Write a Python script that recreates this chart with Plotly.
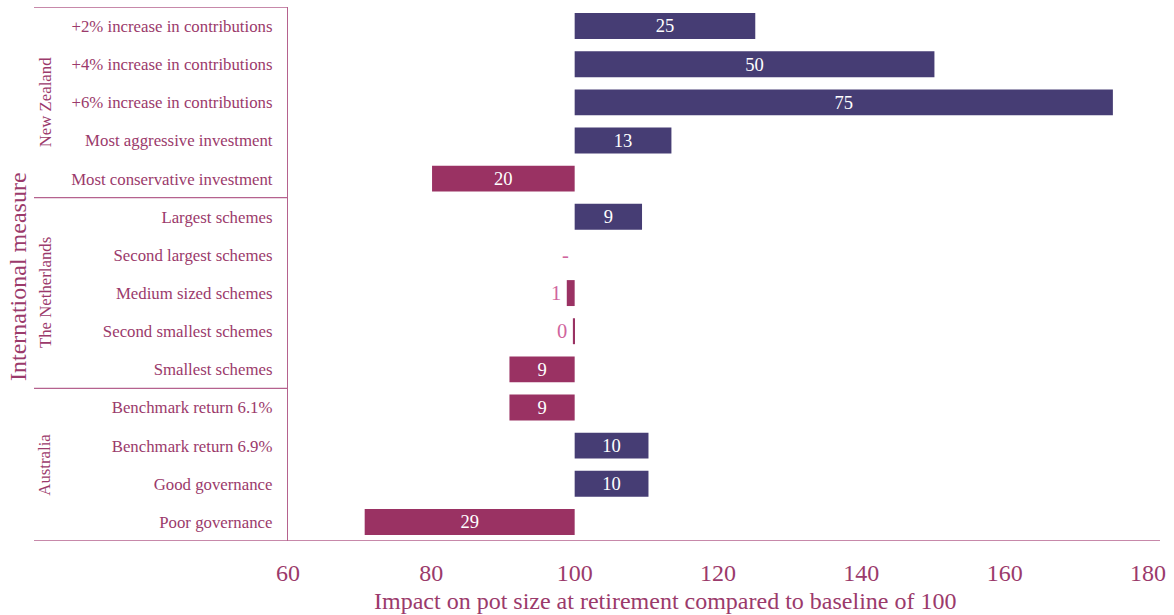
import plotly.graph_objects as go

categories = [
    "+2% increase in contributions", "+4% increase in contributions",
    "+6% increase in contributions", "Most aggressive investment",
    "Most conservative investment",
    "Largest schemes", "Second largest schemes", "Medium sized schemes",
    "Second smallest schemes", "Smallest schemes",
    "Benchmark return 6.1%", "Benchmark return 6.9%", "Good governance",
    "Poor governance",
]
deltas = [25.2, 50.2, 75.1, 13.5, -19.9, 9.4, 0, -1.1, -0.25, -9.1, -9.1, 10.3, 10.3, -29.3]
labels = ["25", "50", "75", "13", "20", "9", "-", "1", "0", "9", "9", "10", "10", "29"]
baseline = 100
groups = ["New Zealand", "The Netherlands", "Australia"]
group_sizes = [5, 5, 4]
xticks = [60, 80, 100, 120, 140, 160, 180]

TXT = "#9b3a6b"
LINE = "#b5628e"
POS = "#463d74"
NEG = "#9a3263"
FONT = "Liberation Serif"

colors = [POS if d > 0 else NEG for d in deltas]
inside_text = [lab if abs(d) >= 5 else "" for d, lab in zip(deltas, labels)]

fig = go.Figure()
fig.add_trace(go.Bar(
    y=categories, x=deltas, base=baseline, orientation="h",
    marker=dict(color=colors, line=dict(width=0)),
    text=inside_text, textposition="inside", insidetextanchor="middle",
    textangle=0,
    textfont=dict(color="white", size=20.5, family=FONT),
    hoverinfo="skip", showlegend=False,
))

annotations = []
for c, d, lab in zip(categories, deltas, labels):
    if abs(d) < 5:
        annotations.append(dict(
            x=baseline + min(d, 0), y=c, xref="x", yref="y", text=lab,
            showarrow=False, xanchor="right", xshift=-4,
            font=dict(color="#d0659d", size=20.5, family=FONT),
        ))

L, R, T, B = 288, 26, 7, 74
W, H = 1174, 615
pw = W - L - R
ph = H - T - B
left_px = 34
xl = (left_px - L) / pw
xr = (1160 - L) / pw

shapes = []
start = -0.5
bounds = [start]
for s in group_sizes:
    start += s
    bounds.append(start)
for i, yb in enumerate(bounds):
    x1 = xr if i == len(bounds) - 1 else 0
    shapes.append(dict(type="line", xref="paper", yref="y", x0=xl, x1=x1,
                       y0=yb, y1=yb, line=dict(color=LINE, width=1.3)))

for g, (b0, b1) in zip(groups, zip(bounds[:-1], bounds[1:])):
    annotations.append(dict(
        x=(45 - L) / pw, y=(b0 + b1) / 2, xref="paper", yref="y", text=g,
        textangle=-90, showarrow=False, xanchor="center", yanchor="middle",
        font=dict(color=TXT, size=16.8, family=FONT),
    ))

annotations.append(dict(
    x=(18 - L) / pw, y=(H - B - 277) / ph, xref="paper", yref="paper",
    text="International measure", textangle=-90, showarrow=False,
    xanchor="center", yanchor="middle",
    font=dict(color=TXT, size=24, family=FONT),
))
annotations.append(dict(
    x=(665 - L) / pw, y=(H - B - 601) / ph, xref="paper", yref="paper",
    text="Impact on pot size at retirement compared to baseline of 100",
    showarrow=False, xanchor="center", yanchor="middle",
    font=dict(color=TXT, size=24, family=FONT),
))

fig.update_layout(
    width=W, height=H,
    margin=dict(l=L, r=R, t=T, b=B, pad=0),
    plot_bgcolor="white", paper_bgcolor="white",
    bargap=0.32,
    font=dict(family=FONT, color=TXT),
    shapes=shapes, annotations=annotations,
    xaxis=dict(range=[60, 180], tickvals=xticks, showgrid=False,
               zeroline=False, showline=False,
               tickfont=dict(size=24, color=TXT, family=FONT),
               ticklabelstandoff=15),
    yaxis=dict(categoryorder="array", categoryarray=categories,
               range=[len(categories) - 0.5, -0.5], showgrid=False,
               zeroline=False, showline=True, linecolor=LINE, linewidth=1.3,
               ticks="", ticklabelstandoff=11,
               tickfont=dict(size=16.8, color=TXT, family=FONT)),
)

fig.write_html("out.html")
